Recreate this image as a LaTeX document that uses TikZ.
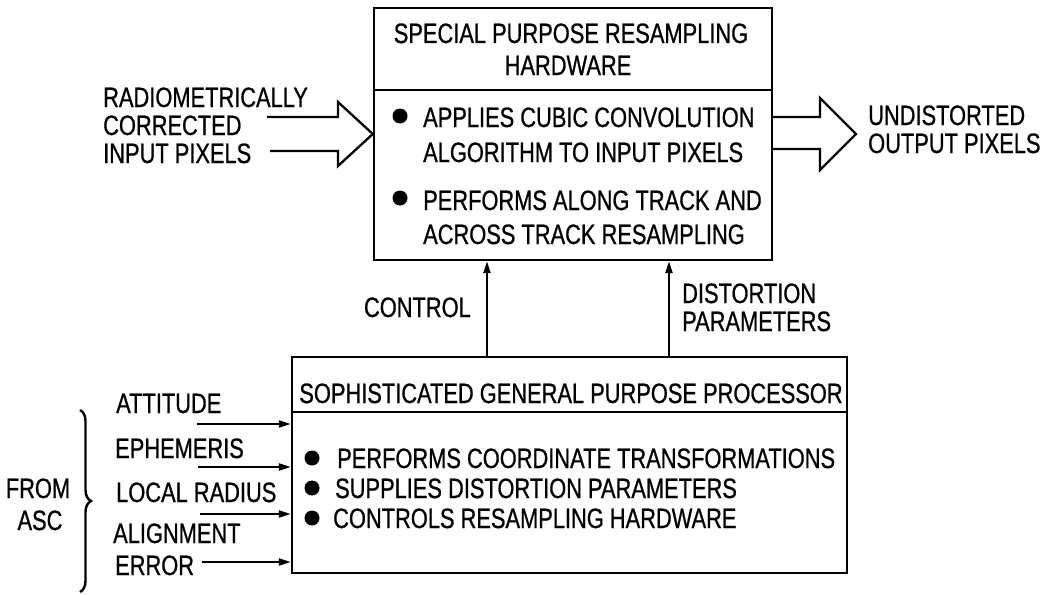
\documentclass[tikz,border=0pt]{standalone}
\usepackage{fontspec}
\setmainfont{Liberation Sans}[FakeStretch=0.78,FakeBold=0.7]
\usetikzlibrary{arrows.meta,decorations.pathreplacing}
\newcommand\diagfont{\fontsize{28}{30}\selectfont}
\begin{document}
\begin{tikzpicture}[x=1pt,y=-1pt,
  txt/.style={inner sep=0pt, font=\diagfont, anchor=base west},
  ctxt/.style={inner sep=0pt, font=\diagfont, anchor=base},
  blockbox/.style={draw, line width=2.4pt, inner sep=0pt},
  dot/.style={circle, fill, inner sep=0pt, minimum size=15pt},
  feed/.style={line width=2.2pt, -{Triangle[length=12pt,width=7pt]}},
  fat/.style={line width=2.3pt, line join=miter}
]
\useasboundingbox (0,0) rectangle (1043,594);

% ---- special purpose resampling hardware ----
\node[blockbox, minimum width=398pt, minimum height=252pt] (sph) at (573,134) {};
\draw[line width=2.4pt] (sph.west |- 0,90) -- (sph.east |- 0,90);
\node[ctxt] (sphA) at (571,43) {SPECIAL PURPOSE RESAMPLING};
\node[ctxt] (sphB) at (568,75) {HARDWARE};
\node[dot] (sd1) at (400,116) {};
\node[txt] (s1a) at (423,127) {APPLIES CUBIC CONVOLUTION};
\node[txt] (s1b) at (423,162) {ALGORITHM TO INPUT PIXELS};
\node[dot] (sd2) at (400,198) {};
\node[txt] (s2a) at (423,210) {PERFORMS ALONG TRACK AND};
\node[txt] (s2b) at (423,244) {ACROSS TRACK RESAMPLING};

% ---- input pixels (hollow arrow) ----
\node[txt] (inA) at (103,107) {RADIOMETRICALLY};
\node[txt] (inB) at (103,135) {CORRECTED};
\node[txt] (inC) at (103,163) {INPUT PIXELS};
\draw[fat] (267,117) -- (338,117) -- (338,102) -- (sph.west |- 0,134)
  -- (338,166) -- (338,151) -- (270,151);

% ---- output pixels (hollow arrow) ----
\draw[fat] (sph.east |- 0,117) -- (820,117) -- (820,98) -- (856,134)
  -- (820,170) -- (820,149) -- (sph.east |- 0,149);
\node[txt] (outA) at (868,125) {UNDISTORTED};
\node[txt] (outB) at (868,153) {OUTPUT PIXELS};

% ---- sophisticated general purpose processor ----
\node[blockbox, minimum width=555pt, minimum height=216pt] (gpp) at (569.5,465) {};
\draw[line width=2.4pt] (gpp.west |- 0,412) -- (gpp.east |- 0,412);
\node[ctxt] (gppT) at (571,403) {SOPHISTICATED GENERAL PURPOSE PROCESSOR};
\node[dot] (gd1) at (312,458) {};
\node[txt] (g1) at (337,468) {PERFORMS COORDINATE TRANSFORMATIONS};
\node[dot] (gd2) at (312,488) {};
\node[txt] (g2) at (335,498) {SUPPLIES DISTORTION PARAMETERS};
\node[dot] (gd3) at (312,518) {};
\node[txt] (g3) at (333,528) {CONTROLS RESAMPLING HARDWARE};

% ---- control and distortion parameter links ----
\coordinate (cx) at (487,0);
\coordinate (dx) at (669,0);
\draw[feed] (cx |- gpp.north) -- (cx |- sph.south);
\draw[feed] (dx |- gpp.north) -- (dx |- sph.south);
\node[inner sep=0pt, font=\diagfont, anchor=base east] (ctl) at (471,317) {CONTROL};
\node[txt] (dpA) at (682,303) {DISTORTION};
\node[txt] (dpB) at (682,331) {PARAMETERS};

% ---- inputs from ASC ----
\node[txt] (att) at (116,413) {ATTITUDE};
\node[txt] (eph) at (115,458) {EPHEMERIS};
\node[txt] (rad) at (116,502) {LOCAL RADIUS};
\node[txt] (alA) at (113,543) {ALIGNMENT};
\node[txt] (alB) at (115,575) {ERROR};
\coordinate (f1) at (197,424);
\coordinate (f2) at (198,467);
\coordinate (f3) at (200,514);
\coordinate (f4) at (202,562);
\draw[feed] (f1) -- (gpp.west |- f1);
\draw[feed] (f2) -- (gpp.west |- f2);
\draw[feed] (f3) -- (gpp.west |- f3);
\draw[feed] (f4) -- (gpp.west |- f4);

\draw[line width=2.4pt, decorate, decoration={brace, amplitude=11pt}] (80,410) -- (80,592);
\node[ctxt] (from) at (38,498) {FROM};
\node[ctxt] (asc) at (40,530) {ASC};
\end{tikzpicture}
\end{document}
